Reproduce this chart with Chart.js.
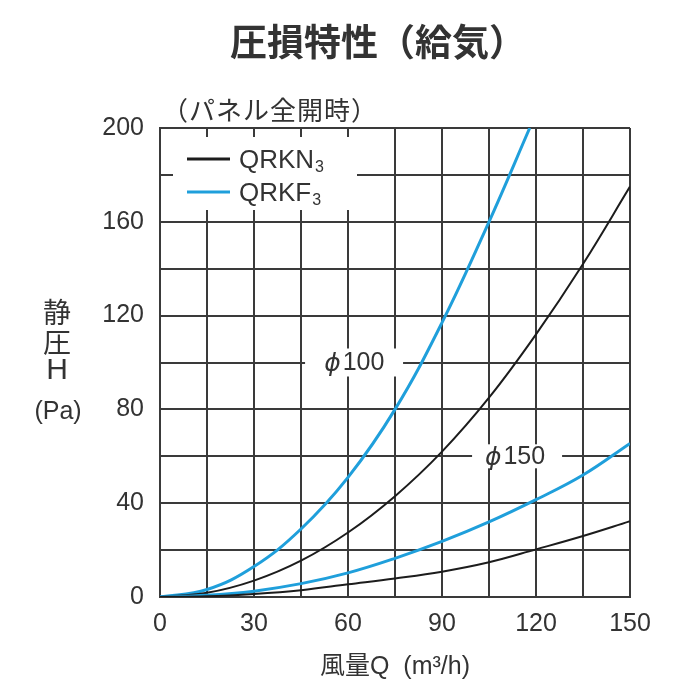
<!DOCTYPE html>
<html>
<head>
<meta charset="utf-8">
<script src="https://cdn.jsdelivr.net/npm/chart.js@4.4.1/dist/chart.umd.min.js"></script>
<style>
  html, body { margin: 0; padding: 0; background: #fff; }
</style>
</head>
<body>
<canvas id="pressureChart" width="700" height="700"></canvas>
<script>
// air flow Q (m3/h) and static pressure H (Pa)
const flowQ = [0, 15, 30, 45, 60, 75, 90, 105, 120, 135, 150];
const flowQF100 = [0, 15, 30, 45, 60, 75, 90, 105, 118];
const qrkn3Phi100 = [0, 1.8, 7, 15.5, 27.5, 43, 62, 85, 112, 142, 175];
const qrkf3Phi100 = [0, 3.2, 13, 29, 51, 80, 117, 160, 200];
const qrkn3Phi150 = [0, 0.3, 1.3, 2.9, 5.4, 7.9, 10.8, 14.8, 20.3, 26, 32.3];
const qrkf3Phi150 = [0, 0.7, 2.5, 5.7, 10.3, 16.5, 23.7, 32, 41.5, 52, 65.5];
const seriesNames = ['QRKN', 'QRKF'];
const sizeLabels = ['100', '150'];

const BLACK = '#1c1c1c';
const BLUE = '#1f9fdb';
const GRID = '#3a3a3a';
const TEXT = '#333';
const LATIN = '"Liberation Sans", Arial, "Noto Sans CJK JP", sans-serif';
const CJK = '"Noto Sans CJK JP", sans-serif';
const PHI_FONT = 'oblique 25px "DejaVu Sans", sans-serif';

function points(xs, ys) {
  return ys.map((y, i) => ({ x: xs[i], y: y }));
}

function curve(data, color, width) {
  return {
    data: data,
    borderColor: color,
    borderWidth: width,
    pointRadius: 0,
    fill: false,
    tension: 0.4
  };
}

function phiLabel(ctx, cx, cy, text) {
  ctx.font = PHI_FONT;
  const pw = ctx.measureText('ϕ').width;
  ctx.font = '25px ' + LATIN;
  const tw = ctx.measureText(text).width;
  const left = cx - (pw + 2 + tw) / 2;
  ctx.textAlign = 'left';
  ctx.textBaseline = 'middle';
  ctx.font = PHI_FONT;
  ctx.fillText('ϕ', left, cy + 2);
  ctx.font = '25px ' + LATIN;
  ctx.fillText(text, left + pw + 2, cy + 1);
}

const annotations = {
  id: 'annotations',
  beforeDatasetsDraw(chart) {
    const { ctx, chartArea: a, scales: { x, y } } = chart;
    ctx.save();
    // white patches that break the grid under the labels
    ctx.fillStyle = '#fff';
    ctx.fillRect(a.left + 13, a.top + 9, 184, 73);
    ctx.fillRect(x.getPixelForValue(46.3), y.getPixelForValue(100) - 14, 98, 28);
    ctx.fillRect(x.getPixelForValue(99.6), y.getPixelForValue(60) - 12, 90, 24);

    // legend
    const colors = [BLACK, BLUE];
    seriesNames.forEach((name, i) => {
      const ly = a.top + 31 + i * 33;
      ctx.strokeStyle = colors[i];
      ctx.lineWidth = 3;
      ctx.beginPath();
      ctx.moveTo(a.left + 27, ly);
      ctx.lineTo(a.left + 70, ly);
      ctx.stroke();
      ctx.fillStyle = TEXT;
      ctx.textAlign = 'left';
      ctx.textBaseline = 'middle';
      ctx.font = '26px ' + LATIN;
      ctx.fillText(name, a.left + 79, ly + 2);
      const w = ctx.measureText(name).width;
      ctx.font = '16px ' + LATIN;
      ctx.fillText('3', a.left + 80 + w, ly + 9);
    });

    // size labels
    ctx.fillStyle = TEXT;
    phiLabel(ctx, x.getPixelForValue(62), y.getPixelForValue(100), sizeLabels[0]);
    phiLabel(ctx, x.getPixelForValue(113.3), y.getPixelForValue(60), sizeLabels[1]);
    ctx.restore();
  },
  afterDraw(chart) {
    const { ctx } = chart;
    ctx.save();
    ctx.fillStyle = TEXT;
    ctx.textAlign = 'center';
    ctx.textBaseline = 'middle';
    ctx.font = 'bold 37px ' + CJK;
    ctx.fillText('圧損特性（給気）', 378, 42);
    ctx.font = '26px ' + CJK;
    ctx.letterSpacing = '1px';
    ctx.fillText('（パネル全開時）', 270, 110);
    ctx.letterSpacing = '0px';

    // stacked y-axis title
    ctx.font = '28px ' + CJK;
    ctx.fillText('静', 57, 312);
    ctx.fillText('圧', 57, 342);
    ctx.font = '30px ' + LATIN;
    ctx.fillText('H', 57, 371);
    ctx.font = '25px ' + LATIN;
    ctx.fillText('(Pa)', 58, 412);
    ctx.restore();
  }
};

new Chart(document.getElementById('pressureChart').getContext('2d'), {
  type: 'line',
  data: {
    datasets: [
      curve(points(flowQ, qrkn3Phi150), BLACK, 2),
      curve(points(flowQ, qrkf3Phi150), BLUE, 3),
      curve(points(flowQ, qrkn3Phi100), BLACK, 2),
      curve(points(flowQF100, qrkf3Phi100), BLUE, 3)
    ]
  },
  options: {
    responsive: false,
    animation: false,
    layout: { padding: { top: 128, right: 70, left: 0, bottom: 0 } },
    plugins: {
      legend: { display: false },
      tooltip: { enabled: false }
    },
    scales: {
      x: {
        type: 'linear',
        min: 0,
        max: 150,
        afterFit: (s) => { s.height = 103; },
        grid: { color: GRID, lineWidth: 2, drawTicks: false },
        border: { color: GRID, width: 2 },
        ticks: {
          stepSize: 15,
          autoSkip: false,
          maxRotation: 0,
          padding: 12,
          color: TEXT,
          font: { family: LATIN, size: 25 },
          callback: (v) => (v % 30 === 0 ? v : '')
        },
        title: {
          display: true,
          text: '風量Q  (m³/h)',
          color: TEXT,
          font: { family: LATIN, size: 25 },
          padding: { bottom: 18 }
        }
      },
      y: {
        min: 0,
        max: 200,
        afterFit: (s) => { s.width = 160; },
        grid: { color: GRID, lineWidth: 2, drawTicks: false },
        border: { color: GRID, width: 2 },
        ticks: {
          stepSize: 20,
          autoSkip: false,
          padding: 16,
          color: TEXT,
          font: { family: LATIN, size: 25 },
          callback: (v) => (v % 40 === 0 ? v : '')
        }
      }
    }
  },
  plugins: [annotations]
});
</script>
</body>
</html>
